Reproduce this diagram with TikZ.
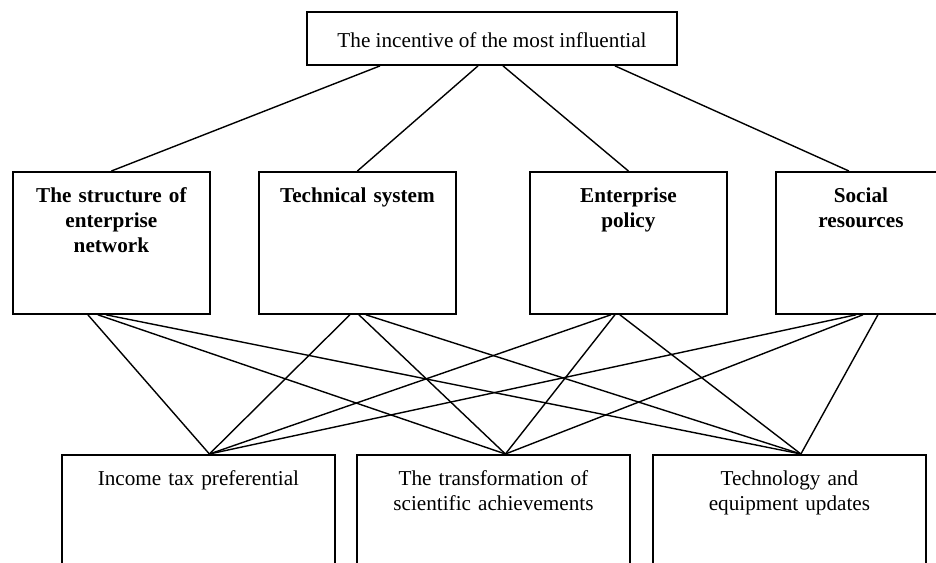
\documentclass[tikz,border=0pt]{standalone}
\usepackage{fontspec}
\setmainfont{Liberation Serif}

\begin{document}
\begin{tikzpicture}[x=0.5pt,y=-0.5pt,every text node part/.style={align=center},
every node/.style={font=\fontsize{10.6}{12.5}\selectfont},
topbox/.style={draw,line width=0.9pt,minimum width=185pt,minimum height=26.5pt,inner sep=0pt,text height=9pt,text depth=0pt},
factor/.style={draw,line width=0.9pt,anchor=north west,inner sep=0pt,text width=98.5pt,text height=15.5pt,text depth=55.5pt,font=\fontsize{10.6}{12.5}\selectfont\bfseries},
measure/.style={draw,line width=0.9pt,anchor=north west,inner sep=0pt,text width=136.5pt,text height=15.5pt,text depth=60pt},
link/.style={line width=0.7pt}]
\useasboundingbox (0,0) rectangle (936,562);
\clip (0,0) rectangle (936,562);

\node [topbox] (top) at (492,38.5) {The incentive of the most influential};

\node [factor] (m1) at (12,171) {The structure of\\enterprise\\network};
\node [factor] (m2) at (258,171) {Technical system};
\node [factor] (m3) at (529,171) {Enterprise\\policy};
\node [factor,text width=85pt] (m4) at (775,171) {Social\\resources};

\node [measure] (b1) at (61,454) {Income tax preferential};
\node [measure] (b2) at (356,454) {The transformation of\\scientific achievements};
\node [measure] (b3) at (652,454) {Technology and\\equipment updates};

\draw [link] ([xshift=-56pt]top.south) -- (m1.north);
\draw [link] ([xshift=-7pt]top.south) -- (m2.north);
\draw [link] ([xshift=5.5pt]top.south) -- (m3.north);
\draw [link] ([xshift=61.5pt]top.south) -- ([xshift=-6pt]m4.north);

\draw [link] ([xshift=-11.75pt]m1.south) -- ([xshift=5.5pt]b1.north);
\draw [link] ([xshift=-6.75pt]m1.south) -- ([xshift=6pt]b2.north);
\draw [link] ([xshift=-2.75pt]m1.south) -- ([xshift=5.75pt]b3.north);
\draw [link] ([xshift=-3.75pt]m2.south) -- ([xshift=5.5pt]b1.north);
\draw [link] ([xshift=0.75pt]m2.south) -- ([xshift=6pt]b2.north);
\draw [link] ([xshift=4.25pt]m2.south) -- ([xshift=5.75pt]b3.north);
\draw [link] ([xshift=-8.75pt]m3.south) -- ([xshift=5.5pt]b1.north);
\draw [link] ([xshift=-6.75pt]m3.south) -- ([xshift=6pt]b2.north);
\draw [link] ([xshift=-4.25pt]m3.south) -- ([xshift=5.75pt]b3.north);
\draw [link] ([xshift=-2.5pt]m4.south) -- ([xshift=5.5pt]b1.north);
\draw [link] ([xshift=1pt]m4.south) -- ([xshift=6pt]b2.north);
\draw [link] ([xshift=8.5pt]m4.south) -- ([xshift=5.75pt]b3.north);
\end{tikzpicture}
\end{document}
